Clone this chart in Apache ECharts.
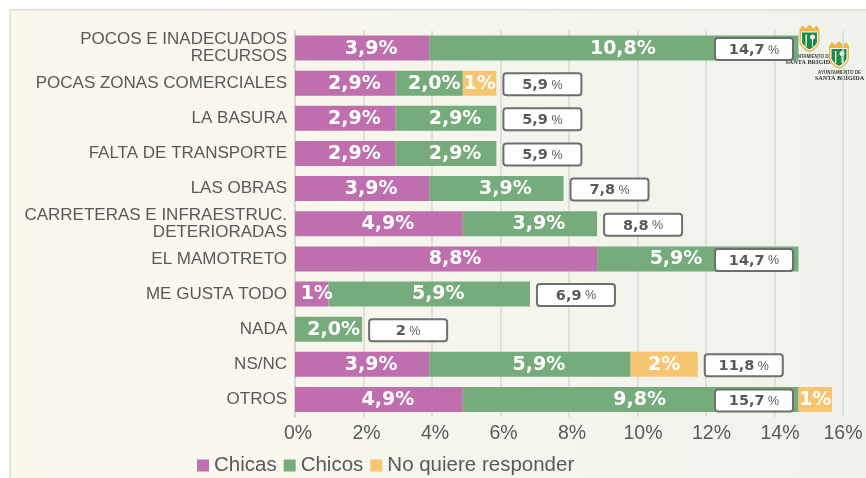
<!DOCTYPE html>
<html><head><meta charset="utf-8">
<style>html,body{margin:0;padding:0;background:#fff}#c{width:866px;height:478px}</style>
<script src="https://cdn.jsdelivr.net/npm/echarts@6/dist/echarts.min.js"></script>
</head><body><div id="c"></div>
<script>
const categories = ['POCOS E INADECUADOS\nRECURSOS','POCAS ZONAS COMERCIALES','LA BASURA','FALTA DE TRANSPORTE','LAS OBRAS','CARRETERAS E INFRAESTRUC.\nDETERIORADAS','EL MAMOTRETO','ME GUSTA TODO','NADA','NS/NC','OTROS'];
const chicas = [3.92,2.94,2.94,2.94,3.92,4.9,8.82,0.98,null,3.92,4.9];
const chicos = [10.78,1.96,2.94,2.94,3.92,3.92,5.88,5.88,1.96,5.88,9.8];
const noResp = [null,0.98,null,null,null,null,null,null,null,1.96,0.98];
const totals = [14.7,5.88,5.88,5.88,7.84,8.82,14.7,6.86,1.96,11.76,15.68];
const totalText = ['14,7','5,9','5,9','5,9','7,8','8,8','14,7','6,9','2','11,8','15,7'];
const tickStep = 2, axisMax = 16;
const FONT = '"Liberation Sans", Arial, sans-serif';
const gridLeft = 295, gridRight = 23, gridW = 866 - gridLeft - gridRight, boxLimit = 715;
const pxPer = gridW / axisMax;

function labelOf(name, v){
  if (name === 'No quiere responder' || v < 1.5) return Math.round(v) + '%';
  return v.toFixed(1).replace('.', ',') + '%';
}
function itemsFor(name, data, before){
  return data.map((v, i) => {
    if (v == null) return {value: null};
    const start = before.reduce((s, a) => s + (a[i] || 0), 0);
    let dx = v < 1.5 ? 5 : (v < 2.5 ? 5 : 9);
    if (name === 'No quiere responder') dx = 0;
    const centre = gridLeft + (start + v / 2) * pxPer + dx;
    if (centre + 29 > boxLimit && centre - 29 < boxLimit + 78 && totals[i] * pxPer + gridLeft > boxLimit) {
      if (start * pxPer + gridLeft < boxLimit - 40) dx -= centre + 29 - (boxLimit - 10);
    }
    return {value: v, label: {offset: [dx, 0.5]}};
  });
}
function barSeries(name, data, color, before){
  return {name, type:'bar', stack:'t', data: itemsFor(name, data, before), barWidth:25, itemStyle:{color},
    label:{show:true, position:'inside', color:'#fff', fontFamily:'"DejaVu Sans"', fontWeight:'bold', fontSize:19,
      formatter:p=>labelOf(name, p.value)}};
}
const chart = echarts.init(document.getElementById('c'),null,{renderer:'canvas'});
function crest(x,y){
  return {type:'group', x, y, silent:true, children:[
    {type:'polygon', shape:{points:[[0,4],[3,0],[6,3],[10,-1],[14,3],[17,0],[20,4],[20,17],[18,21],[14,25],[10,27],[6,25],[2,21],[0,17]]}, style:{fill:'#f2b544'}},
    {type:'polygon', shape:{points:[[1.5,6],[18.5,6],[18.5,17],[16.5,20.5],[13,23.5],[10,25.3],[7,23.5],[3.5,20.5],[1.5,17]]}, style:{fill:'#fff'}},
    {type:'polygon', shape:{points:[[2.5,7],[17.5,7],[17.5,17],[15.5,20],[12.5,22.5],[10,24],[7.5,22.5],[4.5,20],[2.5,17]]}, style:{fill:'#1e8a47'}},
    {type:'rect', shape:{x:6,y:9,width:1.3,height:12}, style:{fill:'#fff'}},
    {type:'circle', shape:{cx:13,cy:11.5,r:2.5}, style:{fill:'#e6f2ea'}},
    {type:'rect', shape:{x:12.5,y:12,width:1,height:9}, style:{fill:'#fff'}},
    {type:'text', x:10.5, y:28.5, style:{text:'AYUNTAMIENTO DE', fill:'#444', font:'bold 4.5px "Liberation Sans"', align:'center'}},
    {type:'text', x:10.5, y:33.5, style:{text:'SANTA BRÍGIDA', fill:'#333', font:'bold 6.2px "Liberation Serif"', align:'center'}}
  ]};
}
const tickLabel = v => {
  if (v === axisMax) return '{z|' + v + '%}';
  return v >= 10 ? '{b|' + v + '%}' : '{a|' + v + '%}';
};
const tickText = {color:'#595959',fontSize:19.5,fontFamily:FONT};
chart.setOption({
  animation:false,
  backgroundColor:'#fff',
  graphic:[
    {type:'rect', z:-10, silent:true, shape:{x:10,y:9,width:856,height:469},
     style:{fill:new echarts.graphic.LinearGradient(0,0,1,0,[{offset:0,color:'#fdf8ee'},{offset:1,color:'#eff3ec'}])}},
    {type:'rect', z:-9, silent:true, shape:{x:10,y:9,width:856,height:1.5}, style:{fill:'#dcdcdc'}},
    {type:'rect', z:-9, silent:true, shape:{x:9.5,y:9,width:1.5,height:469}, style:{fill:'#dcdcdc'}},
    Object.assign(crest(799.5,25.5),{z:50}),
    Object.assign(crest(829,42),{z:50})
  ],
  grid:{left:gridLeft,right:gridRight,top:30.5,bottom:61},
  legend:{left:192,top:450,itemWidth:12,itemHeight:12,itemGap:7,icon:'rect',
    textStyle:{color:'#595959',fontSize:20.5,fontFamily:FONT},
    data:['Chicas','Chicos','No quiere responder']},
  xAxis:{type:'value',min:0,max:axisMax,interval:tickStep,
    axisLine:{show:false},axisTick:{show:false},
    splitLine:{lineStyle:{color:'#d9d9d9',width:1.5}},
    axisLabel:{...tickText,margin:7,formatter:tickLabel,
      rich:{a:{...tickText,padding:[0,0,0,6]},b:{...tickText,padding:[0,0,0,11]},z:{...tickText}}}},
  yAxis:{type:'category',inverse:true,data:categories,
    axisLine:{lineStyle:{color:'#d0d0d0',width:1.5}},axisTick:{show:false},
    axisLabel:{color:'#595959',fontSize:17,fontFamily:FONT,lineHeight:17,margin:8,align:'right',padding:[2,0,0,0]}},
  series:[
    barSeries('Chicas',chicas,'#bf6eae',[]),
    barSeries('Chicos',chicos,'#76ab7b',[chicas]),
    barSeries('No quiere responder',noResp,'#f7c46f',[chicas,chicos]),
    {type:'custom',name:'Total',z:10,data:totals.map((t,i)=>[t,i]),encode:{x:0,y:1},
     renderItem(params,api){
       const p = api.coord([api.value(0),api.value(1)]);
       const bw = 78, bh = 22;
       const x = Math.min(p[0]+7, boxLimit);
       const y = p[1]-bh/2+1;
       return {type:'group',children:[
         {type:'rect',shape:{x,y,width:bw,height:bh,r:3},style:{fill:'#fff',stroke:'#6e6e6e',lineWidth:2}},
         {type:'text',x:x+bw/2,y:y+bh/2+1,style:{
            text:'{a|'+totalText[params.dataIndex]+'}{b| %}',align:'center',verticalAlign:'middle',
            rich:{a:{font:'bold 14.5px "DejaVu Sans"',fill:'#595959'},b:{font:'12.5px "Liberation Sans"',fill:'#595959'}}}}
       ]};
     }}
  ]
});
</script></body></html>
